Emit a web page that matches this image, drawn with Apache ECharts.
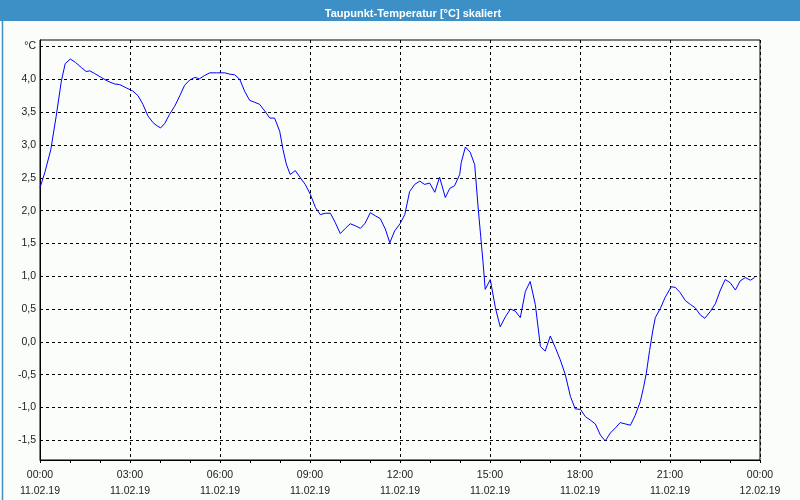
<!DOCTYPE html>
<html>
<head>
<meta charset="utf-8">
<script src="https://cdn.jsdelivr.net/npm/echarts@6/dist/echarts.min.js"></script>
<style>html,body{margin:0;padding:0;background:#fbfdfb;}#c{width:800px;height:500px;}</style>
</head>
<body>
<div id="c"></div>
<script>
const titleText = 'Taupunkt-Temperatur [°C] skaliert';
const hours = [0,0.16,0.36,0.54,0.71,0.84,1.01,1.18,1.38,1.54,1.66,1.82,2.04,2.27,2.49,2.66,2.88,3.1,3.27,3.43,3.6,3.77,3.91,4.02,4.16,4.32,4.49,4.66,4.82,4.99,5.16,5.32,5.49,5.66,5.88,6.16,6.32,6.49,6.66,6.82,6.99,7.16,7.32,7.49,7.66,7.82,7.99,8.1,8.21,8.34,8.51,8.68,8.84,9.01,9.18,9.34,9.51,9.68,9.84,10.01,10.18,10.34,10.51,10.68,10.84,11.01,11.18,11.34,11.51,11.66,11.82,12.0,12.16,12.32,12.49,12.66,12.82,12.99,13.16,13.32,13.51,13.66,13.82,13.99,14.04,14.18,14.34,14.49,14.6,14.69,14.77,14.84,15.01,15.18,15.34,15.51,15.68,15.84,16.01,16.18,16.34,16.51,16.68,16.84,17.01,17.18,17.34,17.51,17.68,17.84,18.02,18.18,18.34,18.51,18.68,18.84,19.01,19.18,19.34,19.51,19.68,19.84,20.01,20.12,20.21,20.32,20.43,20.51,20.68,20.84,21.04,21.18,21.34,21.51,21.68,21.84,22.01,22.16,22.34,22.51,22.68,22.84,23.01,23.18,23.34,23.51,23.68,23.82];
const dewPoint = [2.35,2.58,2.93,3.44,3.97,4.24,4.31,4.26,4.18,4.12,4.13,4.09,4.03,3.97,3.93,3.92,3.87,3.82,3.75,3.62,3.44,3.34,3.29,3.26,3.33,3.47,3.59,3.75,3.91,3.99,4.03,4.01,4.06,4.10,4.10,4.10,4.08,4.07,4.0,3.82,3.68,3.65,3.62,3.52,3.41,3.41,3.21,2.93,2.71,2.55,2.61,2.50,2.40,2.25,2.05,1.94,1.96,1.96,1.82,1.65,1.73,1.80,1.77,1.73,1.81,1.97,1.92,1.88,1.72,1.51,1.69,1.80,1.94,2.29,2.40,2.45,2.40,2.42,2.28,2.51,2.20,2.34,2.38,2.55,2.73,2.97,2.89,2.70,2.07,1.61,1.20,0.80,0.95,0.52,0.23,0.38,0.50,0.47,0.37,0.77,0.92,0.57,-0.07,-0.14,0.09,-0.09,-0.27,-0.50,-0.83,-1.02,-1.03,-1.14,-1.19,-1.25,-1.42,-1.51,-1.39,-1.31,-1.23,-1.25,-1.27,-1.12,-0.91,-0.69,-0.48,-0.13,0.18,0.37,0.51,0.68,0.84,0.83,0.75,0.63,0.57,0.52,0.41,0.36,0.46,0.58,0.79,0.95,0.90,0.79,0.93,0.98,0.94,0.98];
const yTickValues = [-1.5,-1.0,-0.5,0.0,0.5,1.0,1.5,2.0,2.5,3.0,3.5,4.0,4.5];
const yTickLabels = ['-1,5','-1,0','-0,5','0,0','0,5','1,0','1,5','2,0','2,5','3,0','3,5','4,0','°C'];
const xTickHours = [0,3,6,9,12,15,18,21,24];
const xTickTimes = ['00:00','03:00','06:00','09:00','12:00','15:00','18:00','21:00','00:00'];
const xTickDates = ['11.02.19','11.02.19','11.02.19','11.02.19','11.02.19','11.02.19','11.02.19','11.02.19','12.02.19'];

const chart = echarts.init(document.getElementById('c'), null, {renderer: 'canvas'});
const FONT = 'Liberation Sans';
const gridStyle = {color: '#000', width: 1, type: [3, 3]};
chart.setOption({
  backgroundColor: '#fbfdfb',
  animation: false,
  graphic: [
    {type: 'rect', left: 0, top: 0, shape: {width: 800, height: 21}, style: {fill: '#3d90c6'}, z: 0},
    {type: 'rect', left: 0, top: 0, shape: {x: 0.5, y: 0.5, width: 799, height: 499}, style: {fill: 'none', stroke: '#3d90c6', lineWidth: 1.5}, z: 0}
  ],
  title: {
    text: titleText, left: 408, top: 3, textAlign: 'center',
    textStyle: {color: '#fff', fontSize: 11, fontWeight: 'bold', fontFamily: FONT}
  },
  grid: {left: 40, right: 40, top: 40, bottom: 40, show: true, borderColor: '#000', borderWidth: 1, backgroundColor: 'transparent'},
  xAxis: {
    type: 'value', min: 0, max: 24, interval: 3,
    axisLine: {onZero: false, lineStyle: {color: '#000'}},
    axisTick: {show: true, length: 3, lineStyle: {color: '#000'}},
    minorTick: {show: true, splitNumber: 3, length: 3, lineStyle: {color: '#000'}},
    splitLine: {show: true, lineStyle: gridStyle},
    axisLabel: {
      margin: 7, color: '#1a1a1a', fontSize: 10.5, fontFamily: FONT, lineHeight: 16,
      formatter: function (v) { const i = xTickHours.indexOf(v); return xTickTimes[i] + '\n' + xTickDates[i]; }
    }
  },
  yAxis: {
    type: 'value', min: -1.8, max: 4.6,
    axisLine: {show: true, onZero: false, lineStyle: {color: '#000'}},
    axisTick: {show: false},
    splitLine: {show: false},
    axisLabel: {
      customValues: yTickValues, margin: 4, color: '#1a1a1a', fontSize: 10.5, fontFamily: FONT,
      formatter: function (v) { const i = yTickValues.findIndex(t => Math.abs(t - v) < 1e-6); return i >= 0 ? yTickLabels[i] : ''; }
    }
  },
  series: [{
    type: 'line',
    data: hours.map((h, i) => [h, dewPoint[i]]),
    showSymbol: false,
    lineStyle: {color: '#0000ff', width: 1},
    z: 5,
    markLine: {
      silent: true, symbol: 'none', label: {show: false},
      lineStyle: gridStyle,
      data: yTickValues.map(v => ({yAxis: v}))
    }
  }]
});
</script>
</body>
</html>
